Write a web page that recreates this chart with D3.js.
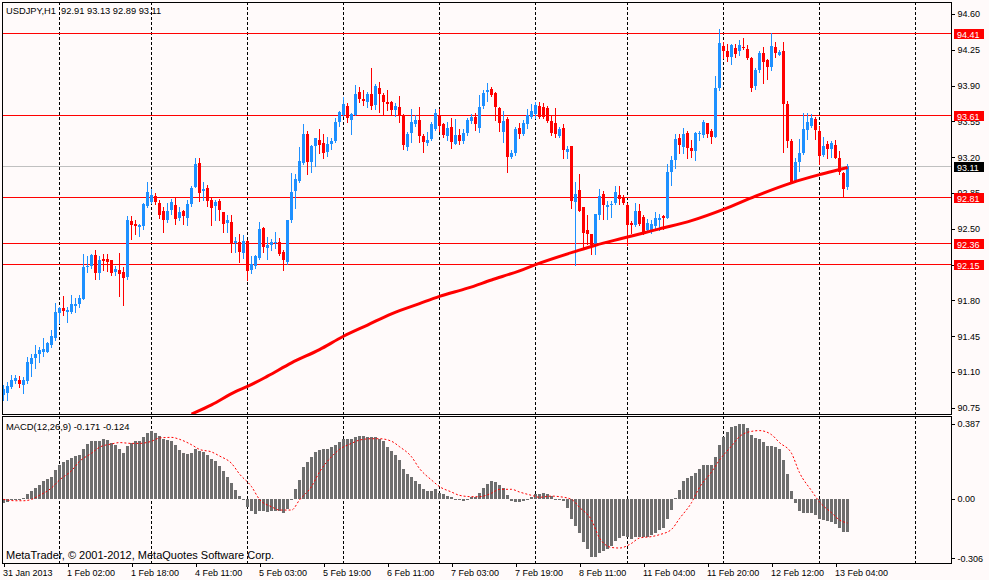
<!DOCTYPE html>
<html>
<head>
<meta charset="utf-8">
<script src="https://cdn.jsdelivr.net/npm/d3@7"></script>
<style>
	body { margin: 0; background: #fffafa; }
	svg text { font-family: "Liberation Sans", Arial, sans-serif; font-size: 9px; }
</style>
</head>
<body>
<div id="chart"></div>
<script>
// USDJPY H1, 31 Jan 10:00 .. 13 Feb 07:00 (bar index 0..211)
var opens = [
	90.88,90.90,90.95,91.01,91.02,90.97,91.01,91.18,91.24,91.28,
	91.30,91.30,91.36,91.43,91.68,91.73,91.69,91.69,91.75,91.77,
	91.81,92.13,92.14,92.24,92.07,92.21,92.21,92.20,92.08,92.10,
	92.08,92.03,92.58,92.55,92.52,92.53,92.72,92.76,92.82,92.75,
	92.67,92.59,92.68,92.73,92.61,92.67,92.61,92.74,92.91,93.14,
	92.87,92.90,92.78,92.72,92.77,92.66,92.56,92.57,92.36,92.37,
	92.26,92.38,92.10,92.14,92.22,92.51,92.31,92.34,92.36,92.37,
	92.27,92.18,92.59,92.87,92.97,93.14,93.43,93.15,93.31,93.37,
	93.34,93.25,93.33,93.36,93.54,93.61,93.70,93.56,93.61,93.84,
	93.77,93.74,93.82,93.71,93.88,93.81,93.74,93.74,93.66,93.69,
	93.61,93.30,93.44,93.52,93.56,93.41,93.34,93.38,93.48,93.61,
	93.52,93.41,93.50,93.33,93.42,93.36,93.44,93.55,93.59,93.49,
	93.70,93.84,93.87,93.83,93.68,93.45,93.57,93.20,93.24,93.49,
	93.43,93.52,93.59,93.62,93.70,93.69,93.68,93.55,93.53,93.41,
	93.49,93.25,93.31,92.76,92.88,92.71,92.49,92.45,92.33,92.64,
	92.84,92.71,92.73,92.75,92.83,92.81,92.73,92.56,92.54,92.67,
	92.62,92.49,92.48,92.53,92.59,92.63,92.61,93.06,93.17,93.39,
	93.30,93.44,93.29,93.26,93.43,93.42,93.53,93.46,93.40,93.88,
	94.29,94.24,94.18,94.27,94.24,94.28,94.26,94.17,93.90,94.05,
	94.22,94.15,94.08,94.28,94.20,94.24,93.72,93.36,92.96,93.15,
	93.24,93.47,93.51,93.57,93.46,93.22,93.33,93.28,93.32,93.19,
	93.05,92.91
];
var highs = [
	90.97,91.00,91.07,91.07,91.06,91.05,91.25,91.28,91.36,91.35,
	91.43,91.39,91.51,91.78,91.74,91.84,91.74,91.85,91.82,91.85,
	92.25,92.23,92.25,92.29,92.23,92.25,92.25,92.20,92.14,92.26,
	92.13,92.63,92.63,92.59,92.55,92.75,92.96,92.89,92.85,92.78,
	92.71,92.75,92.79,92.80,92.71,92.68,92.78,92.92,93.19,93.19,
	92.96,92.93,92.80,92.78,92.79,92.66,92.64,92.64,92.42,92.45,
	92.44,92.39,92.23,92.24,92.57,92.52,92.42,92.40,92.47,92.41,
	92.29,92.59,93.05,93.04,93.30,93.52,93.46,93.32,93.39,93.48,
	93.43,93.40,93.39,93.58,93.65,93.79,93.73,93.63,93.91,93.89,
	93.86,93.84,94.07,93.92,93.94,93.83,93.86,93.75,93.73,93.80,
	93.62,93.45,93.67,93.61,93.69,93.43,93.45,93.54,93.67,93.67,
	93.53,93.54,93.58,93.57,93.48,93.48,93.58,93.62,93.63,93.81,
	93.86,93.93,93.89,93.84,93.69,93.65,93.59,93.27,93.50,93.53,
	93.56,93.67,93.72,93.74,93.74,93.73,93.70,93.61,93.68,93.50,
	93.52,93.31,93.31,92.96,93.04,92.71,92.64,92.45,92.65,92.89,
	92.87,92.77,92.77,92.92,92.92,92.83,92.75,92.58,92.75,92.74,
	92.64,92.60,92.59,92.66,92.65,92.64,93.13,93.21,93.43,93.43,
	93.49,93.46,93.37,93.45,93.46,93.56,93.53,93.48,93.99,94.45,
	94.33,94.31,94.31,94.31,94.35,94.37,94.30,94.18,94.07,94.24,
	94.28,94.16,94.41,94.33,94.25,94.33,93.75,93.38,93.19,93.38,
	93.63,93.63,93.62,93.59,93.51,93.40,93.36,93.36,93.37,93.26,
	93.06,93.13
];
var lows = [
	90.83,90.83,90.94,90.99,90.95,90.90,90.99,91.06,91.14,91.20,
	91.26,91.30,91.35,91.41,91.58,91.66,91.59,91.68,91.69,91.74,
	91.81,92.08,92.12,92.01,92.01,92.10,92.09,92.05,92.05,91.84,
	91.76,92.01,92.40,92.45,92.43,92.50,92.71,92.75,92.74,92.61,
	92.47,92.57,92.65,92.55,92.59,92.55,92.54,92.72,92.91,92.77,
	92.78,92.72,92.54,92.59,92.59,92.47,92.47,92.27,92.27,92.18,
	92.22,92.00,92.07,92.12,92.21,92.27,92.21,92.29,92.31,92.24,
	92.10,92.16,92.57,92.70,92.96,93.13,93.04,93.06,93.11,93.24,
	93.19,93.21,93.28,93.35,93.51,93.60,93.54,93.43,93.61,93.74,
	93.71,93.69,93.67,93.67,93.64,93.61,93.66,93.62,93.60,93.54,
	93.28,93.27,93.35,93.51,93.35,93.25,93.32,93.37,93.47,93.46,
	93.40,93.37,93.29,93.33,93.33,93.34,93.42,93.53,93.47,93.45,
	93.68,93.75,93.80,93.56,93.46,93.35,93.06,93.19,93.22,93.39,
	93.42,93.49,93.58,93.58,93.58,93.58,93.54,93.42,93.40,93.40,
	93.19,93.19,92.70,92.15,92.67,92.30,92.35,92.25,92.25,92.60,
	92.60,92.60,92.62,92.74,92.74,92.74,92.34,92.46,92.53,92.54,
	92.45,92.47,92.46,92.49,92.49,92.50,92.61,92.93,93.09,93.24,
	93.24,93.19,93.20,93.17,93.37,93.40,93.40,93.34,93.40,93.86,
	94.17,94.14,94.11,94.18,94.20,94.26,94.16,93.85,93.87,94.03,
	93.93,93.96,94.05,94.18,94.20,93.25,93.30,92.95,92.96,93.07,
	93.23,93.38,93.50,93.38,93.13,93.21,93.19,93.20,93.19,93.04,
	92.82,92.89
];
var closes = [
	90.93,90.96,91.02,91.04,90.98,91.02,91.20,91.24,91.28,91.32,
	91.33,91.38,91.45,91.69,91.73,91.70,91.71,91.77,91.77,91.82,
	92.13,92.14,92.24,92.07,92.20,92.19,92.18,92.07,92.11,92.06,
	92.02,92.59,92.54,92.53,92.54,92.74,92.86,92.83,92.76,92.64,
	92.59,92.67,92.76,92.60,92.66,92.63,92.74,92.90,93.13,92.85,
	92.89,92.77,92.70,92.76,92.68,92.55,92.59,92.36,92.38,92.27,
	92.38,92.09,92.16,92.23,92.50,92.32,92.34,92.37,92.37,92.25,
	92.20,92.59,92.86,92.99,93.16,93.43,93.15,93.31,93.39,93.32,
	93.24,93.33,93.36,93.54,93.64,93.72,93.58,93.62,93.82,93.77,
	93.75,93.82,93.70,93.90,93.82,93.74,93.72,93.66,93.70,93.61,
	93.32,93.43,93.54,93.56,93.41,93.35,93.37,93.52,93.63,93.51,
	93.42,93.49,93.35,93.42,93.36,93.44,93.56,93.59,93.52,93.69,
	93.83,93.86,93.81,93.69,93.53,93.55,93.20,93.24,93.48,93.43,
	93.53,93.61,93.65,93.71,93.59,93.59,93.55,93.44,93.43,93.48,
	93.27,93.28,92.77,92.84,92.67,92.46,92.45,92.34,92.65,92.82,
	92.73,92.73,92.74,92.86,92.79,92.75,92.54,92.54,92.67,92.55,
	92.47,92.56,92.55,92.61,92.61,92.61,93.06,93.17,93.38,93.32,
	93.43,93.29,93.26,93.44,93.44,93.54,93.43,93.40,93.88,94.32,
	94.24,94.18,94.30,94.21,94.30,94.27,94.17,93.88,94.05,94.22,
	94.13,94.08,94.29,94.22,94.23,93.72,93.36,92.95,93.15,93.24,
	93.48,93.54,93.58,93.47,93.21,93.31,93.28,93.34,93.19,93.06,
	92.89,93.11
];

// moving average, read at a few bars
var maBars   = [47, 52, 58, 61, 66, 72, 79, 85, 91, 97, 104, 109, 116, 122, 129, 133, 143, 148, 155, 160, 164, 172, 180, 188, 197, 204, 209, 211];
var maValues = [90.69,90.78,90.91,90.96,91.06,91.19,91.32,91.45,91.56,91.67,91.77,91.84,91.92,92.00,92.09,92.15,92.28,92.34,92.41,92.46,92.50,92.58,92.69,92.82,92.95,93.03,93.08,93.10];

// MACD(12,26,9) histogram, one value per bar
var macdValues = [
	-0.022,-0.015,-0.005,-0.003,0.002,0.005,0.026,0.043,0.057,0.072,
	0.091,0.101,0.115,0.150,0.177,0.191,0.201,0.212,0.222,0.229,
	0.256,0.284,0.301,0.301,0.301,0.308,0.304,0.291,0.280,0.260,
	0.239,0.273,0.287,0.298,0.301,0.322,0.342,0.349,0.342,0.325,
	0.311,0.304,0.298,0.277,0.253,0.239,0.232,0.239,0.256,0.249,
	0.243,0.229,0.205,0.194,0.170,0.143,0.115,0.084,0.046,0.015,
	-0.002,-0.040,-0.060,-0.077,-0.064,-0.064,-0.067,-0.060,-0.060,-0.064,
	-0.071,-0.050,0.002,0.053,0.098,0.163,0.191,0.215,0.243,0.253,
	0.256,0.260,0.267,0.280,0.294,0.308,0.308,0.308,0.318,0.325,
	0.325,0.322,0.318,0.318,0.308,0.298,0.267,0.246,0.229,0.201,
	0.153,0.129,0.112,0.095,0.077,0.053,0.043,0.043,0.050,0.033,
	0.026,0.015,0.009,0.002,-0.005,-0.009,0.002,0.009,0.009,0.029,
	0.055,0.079,0.093,0.090,0.070,0.057,0.019,-0.012,-0.015,-0.015,
	-0.009,-0.002,0.012,0.026,0.026,0.029,0.026,0.015,-0.002,-0.005,
	-0.012,-0.046,-0.101,-0.139,-0.177,-0.222,-0.260,-0.298,-0.298,-0.277,
	-0.267,-0.256,-0.243,-0.218,-0.201,-0.191,-0.194,-0.205,-0.198,-0.198,
	-0.198,-0.194,-0.184,-0.174,-0.160,-0.150,-0.101,-0.057,0.005,0.046,
	0.091,0.108,0.119,0.136,0.153,0.177,0.177,0.177,0.215,0.277,
	0.322,0.346,0.370,0.377,0.387,0.387,0.366,0.332,0.315,0.308,
	0.294,0.273,0.273,0.270,0.256,0.201,0.129,0.043,-0.022,-0.064,
	-0.071,-0.074,-0.074,-0.081,-0.105,-0.108,-0.115,-0.120,-0.128,-0.148,
	-0.170,-0.171
];

// signal line, read at every 2-3 bars
var signalBars = [0,3,5,7,9,12,14,17,19,22,24,27,29,32,34,37,39,42,44,47,49,52,54,57,59,62,64,67,69,72,74,77,79,82,84,87,89,92,94,97,99,102,104,107,109,112,114,117,119,122,124,127,129,132,134,137,139,142,144,147,149,152,154,157,159,162,164,167,169,172,174,177,179,182,184,187,189,192,194,197,199,202,204,207,209,211];
var signalValues = [
	-0.002,-0.009,-0.009,-0.002,0.019,0.057,0.098,0.146,0.194,0.236,
	0.267,0.284,0.291,0.287,0.287,0.298,0.315,0.318,0.308,0.280,
	0.256,0.243,0.222,0.184,0.129,0.064,-0.002,-0.040,-0.057,-0.057,
	-0.005,0.064,0.139,0.218,0.256,0.287,0.304,0.311,0.311,0.298,
	0.270,0.218,0.157,0.098,0.064,0.036,0.019,0.012,0.012,0.030,
	0.050,0.050,0.036,0.019,0.009,0.015,0.012,-0.002,-0.043,-0.108,
	-0.201,-0.250,-0.253,-0.229,-0.201,-0.194,-0.184,-0.157,-0.101,-0.019,
	0.060,0.139,0.201,0.273,0.322,0.349,0.353,0.332,0.291,0.236,
	0.136,0.043,-0.015,-0.071,-0.108,-0.124
];

var dayStarts = [14, 37, 61, 85, 109, 133, 156, 180, 204, 228];
var timeBars = [0, 16, 32, 48, 64, 80, 96, 112, 128, 144, 160, 176, 192, 208];
var timeLabels = ["31 Jan 2013", "1 Feb 02:00", "1 Feb 18:00", "4 Feb 11:00", "5 Feb 03:00", "5 Feb 19:00", "6 Feb 11:00",
	"7 Feb 03:00", "7 Feb 19:00", "8 Feb 11:00", "11 Feb 04:00", "11 Feb 20:00", "12 Feb 12:00", "13 Feb 04:00"];
var priceTicks = [94.60, 94.25, 93.90, 93.55, 93.20, 92.85, 92.50, 92.15, 91.80, 91.45, 91.10, 90.75];
var levels = [94.41, 93.61, 92.81, 92.36, 92.15];
var bid = 93.11;
var macdTicks = [0.387, 0, -0.306];
var macdTickLabels = ["0.387", "0.00", "-0.306"];

function chart(){
	var width = 989, height = 580;
	var left = 2, right = 951, mainTop = 2, mainBottom = 414, macdTop = 416, macdBottom = 563;
	var up = "#1e90ff", down = "#ff0000";

	var svg = d3.select("#chart").append("svg")
		.attr("width", width)
		.attr("height", height)
		.style("background", "#fffafa");

	var x = d3.scaleLinear().domain([0, 228]).range([3.5, 3.5 + 4 * 228]);
	var y = d3.scaleLinear().domain([90.75, 94.60]).range([407.9, 14]);
	var ym = d3.scaleLinear().domain([-0.306, 0.387]).range([558.3, 424]);

	var defs = svg.append("defs");
	defs.append("clipPath").attr("id", "clipMain").append("rect")
		.attr("x", left + 1).attr("y", mainTop + 1)
		.attr("width", right - left - 1).attr("height", mainBottom - mainTop - 1);
	defs.append("clipPath").attr("id", "clipMacd").append("rect")
		.attr("x", left + 1).attr("y", macdTop + 1)
		.attr("width", right - left - 1).attr("height", macdBottom - macdTop - 1);

	var px = function(v) { return Math.floor(v) + 0.5; };

	// day separators
	var grid = svg.append("g").attr("stroke", "#000").attr("stroke-dasharray", "3,2").attr("shape-rendering", "crispEdges");
	dayStarts.forEach(function(d) {
		grid.append("line").attr("x1", px(x(d))).attr("x2", px(x(d))).attr("y1", mainTop).attr("y2", mainBottom);
		grid.append("line").attr("x1", px(x(d))).attr("x2", px(x(d))).attr("y1", macdTop).attr("y2", macdBottom);
	});

	var main = svg.append("g").attr("clip-path", "url(#clipMain)");

	// horizontal levels and bid line
	main.selectAll(".level")
		.data(levels)
		.enter().append("line")
		.attr("x1", left).attr("x2", right)
		.attr("y1", function(d) { return px(y(d)); })
		.attr("y2", function(d) { return px(y(d)); })
		.attr("stroke", "#ff0000")
		.attr("shape-rendering", "crispEdges");

	main.append("line")
		.attr("x1", left).attr("x2", right)
		.attr("y1", px(y(bid))).attr("y2", px(y(bid)))
		.attr("stroke", "#c0c0c0")
		.attr("shape-rendering", "crispEdges");

	// candles
	var idx = d3.range(closes.length);
	var candles = main.append("g").attr("shape-rendering", "crispEdges");
	candles.selectAll(".wick")
		.data(idx)
		.enter().append("line")
		.attr("x1", function(i) { return x(i); })
		.attr("x2", function(i) { return x(i); })
		.attr("y1", function(i) { return y(highs[i]); })
		.attr("y2", function(i) { return y(lows[i]) + 1; })
		.attr("stroke", function(i) { return closes[i] >= opens[i] ? up : down; });
	candles.selectAll(".body")
		.data(idx)
		.enter().append("rect")
		.attr("x", function(i) { return x(i) - 1.5; })
		.attr("width", 3)
		.attr("y", function(i) { return y(Math.max(opens[i], closes[i])); })
		.attr("height", function(i) { return Math.max(1, Math.abs(y(opens[i]) - y(closes[i]))); })
		.attr("fill", function(i) { return closes[i] >= opens[i] ? up : down; });

	// moving average
	main.append("path")
		.datum(d3.range(maBars.length))
		.attr("fill", "none")
		.attr("stroke", "#ff0000")
		.attr("stroke-width", 3)
		.attr("d", d3.line()
			.curve(d3.curveMonotoneX)
			.x(function(k) { return x(maBars[k]); })
			.y(function(k) { return y(maValues[k]); }));

	// MACD histogram and signal
	var macd = svg.append("g").attr("clip-path", "url(#clipMacd)");
	macd.append("g").attr("shape-rendering", "crispEdges")
		.selectAll("rect")
		.data(idx)
		.enter().append("rect")
		.attr("x", function(i) { return x(i) - 1.5; })
		.attr("width", 3)
		.attr("y", function(i) { return ym(Math.max(0, macdValues[i])); })
		.attr("height", function(i) { return Math.max(1, Math.abs(ym(macdValues[i]) - ym(0))); })
		.attr("fill", "#6e6e6e");

	macd.append("path")
		.datum(d3.range(signalBars.length))
		.attr("fill", "none")
		.attr("stroke", "#ff0000")
		.attr("stroke-width", 1)
		.attr("stroke-dasharray", "2,2")
		.attr("d", d3.line()
			.curve(d3.curveMonotoneX)
			.x(function(k) { return x(signalBars[k]); })
			.y(function(k) { return ym(signalValues[k]); }));

	// frames
	svg.append("rect")
		.attr("x", left + 0.5).attr("y", mainTop + 0.5)
		.attr("width", right - left).attr("height", mainBottom - mainTop)
		.attr("fill", "none").attr("stroke", "#000").attr("shape-rendering", "crispEdges");
	svg.append("rect")
		.attr("x", left + 0.5).attr("y", macdTop + 0.5)
		.attr("width", right - left).attr("height", macdBottom - macdTop)
		.attr("fill", "none").attr("stroke", "#000").attr("shape-rendering", "crispEdges");

	// price axis
	var yAxis = svg.append("g")
		.attr("transform", "translate(" + (right + 0.5) + ",0)")
		.call(d3.axisRight(y).tickValues(priceTicks).tickSize(3).tickPadding(3).tickFormat(d3.format(".2f")));
	yAxis.select(".domain").remove();

	var macdAxis = svg.append("g")
		.attr("transform", "translate(" + (right + 0.5) + ",0)")
		.call(d3.axisRight(ym).tickValues(macdTicks).tickSize(3).tickPadding(3)
			.tickFormat(function(d, i) { return macdTickLabels[i]; }));
	macdAxis.select(".domain").remove();

	var xAxis = svg.append("g")
		.attr("transform", "translate(0," + (macdBottom + 0.5) + ")")
		.call(d3.axisBottom(x).tickValues(timeBars).tickSize(3).tickPadding(3)
			.tickFormat(function(d, i) { return timeLabels[i]; }));
	xAxis.select(".domain").remove();
	xAxis.selectAll("text").attr("text-anchor", "start").attr("x", -1);

	svg.selectAll(".tick line").attr("shape-rendering", "crispEdges");
	svg.selectAll(".tick text").attr("fill", "#000").style("font-size", "9px");

	// level tags on the price axis
	var tags = levels.map(function(d) { return {v: d, fill: "#ff0000"}; });
	tags.push({v: bid, fill: "#000"});
	var tag = svg.append("g").selectAll("g")
		.data(tags)
		.enter().append("g")
		.attr("transform", function(d) { return "translate(954," + Math.floor(y(d.v)) + ")"; });
	tag.append("rect")
		.attr("x", 0).attr("y", -4).attr("width", 30).attr("height", 10)
		.attr("fill", function(d) { return d.fill; })
		.attr("shape-rendering", "crispEdges");
	tag.append("text")
		.attr("x", 3).attr("y", 4.5)
		.attr("fill", "#fff")
		.text(function(d) { return d.v.toFixed(2); });

	// captions
	svg.append("text").attr("x", 6).attr("y", 14).style("white-space", "pre").style("font-size", "9.3px")
		.text("USDJPY,H1  92.91 93.13 92.89 93.11");
	svg.append("text").attr("x", 6).attr("y", 430).style("font-size", "9.4px")
		.text("MACD(12,26,9) -0.171 -0.124");
	svg.append("text").attr("x", 6).attr("y", 558.5).style("font-size", "11px")
		.text("MetaTrader, \u00a9 2001-2012, MetaQuotes Software Corp.");
}

chart();
</script>
</body>
</html>
